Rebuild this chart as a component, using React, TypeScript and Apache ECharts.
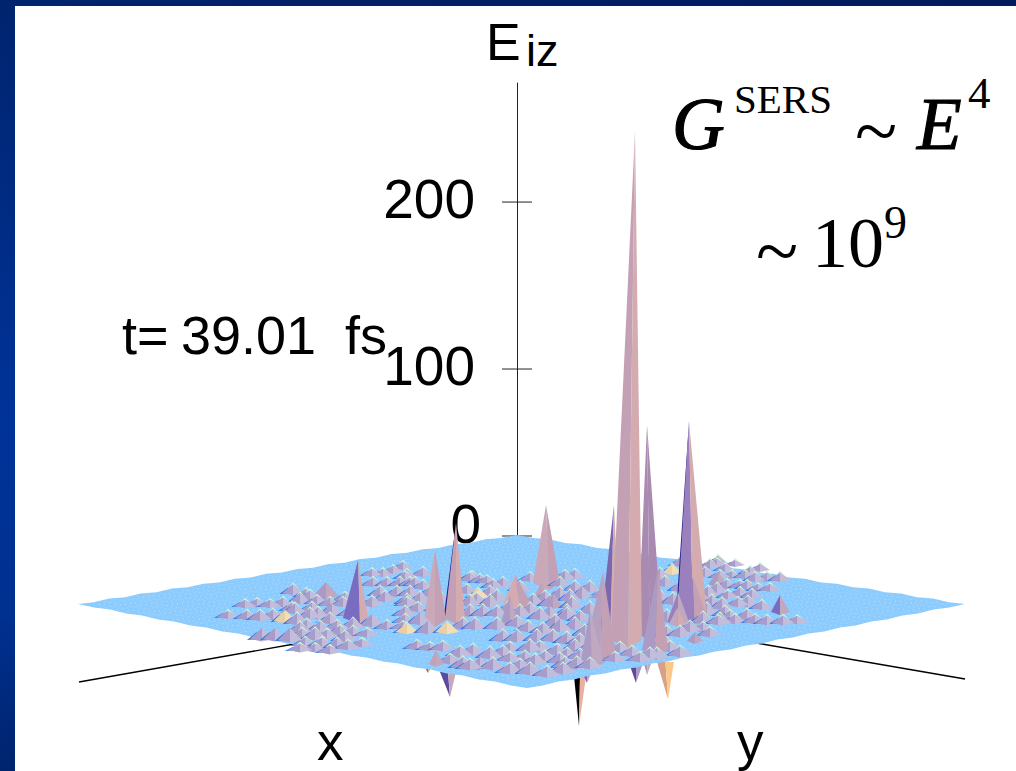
import React, { useEffect, useRef } from "react";
import * as echarts from "echarts";

const zTicks = [0, 100, 200];
const zLabels = ["0", "100", "200"];
const floorCorners = [[78, 604], [517, 535], [965, 604], [527, 688]];
const groundAxisLeft = [[79, 682], [300, 643]];
const groundAxisRight = [[965, 679], [750, 642]];

// [x, base y, apex height, tint (0 plain, 1 tan)]
const bumpsLeft = [
  [293,593,7],[306,596,6],[257,605,5],[270,606,5],[283,605,6],[300,602,7],[317,603,6],
  [228,617,5],[247,618,6],[260,619,7],[273,618,7],[285,621,9,1],[297,623,8],[307,628,7],
  [262,639,9],[275,639,9],[290,640,10],[302,637,7],[315,638,8],[327,637,6],[340,633,6],[353,635,7],[367,635,5],
  [305,645,6],[322,645,6],[337,647,7],[348,648,6],
  [320,630,7],[337,628,6],[353,627,7],[372,625,9],[387,628,6],[403,628,5],
  [373,585,6],[387,585,6],[400,585,6],[380,595,7],[397,595,7],[383,575,5],[372,575,5],[405,578,5],
  [372,605,7],[407,605,6],[405,622,6],[318,617,8],[332,614,9],[292,610,6],[312,610,6],
  [245,606,5],[310,598,6],[330,605,6],[343,605,6],[295,612,7],[310,617,7],[350,615,7],[360,610,6],[345,600,6],
  [330,622,7],[300,632,8],[345,640,7],[362,645,5],[330,652,5],[315,650,5],[300,650,5],
  [385,600,7],[410,585,6],[418,610,6],[393,572,5],[403,568,5],[415,585,6],
];
const bumpsMiddle = [
  [407,577,6],[423,575,6],[470,580,6],[480,582,6],[493,587,6],[503,585,6],[530,580,6],[565,578,6],[487,582,5],[472,578,5],
  [410,595,7],[423,588,6],[467,592,6],[478,597,7,1],[490,595,7],[560,597,8],
  [407,603,7],[420,602,8],[477,603,8],[490,605,8],[533,603,7],[550,605,8],
  [420,623,9],[470,615,8],[483,615,8],[497,615,7],[530,613,8],[550,617,9],[567,615,8],
  [407,632,7,1],[428,632,9],[447,632,9,1],[463,628,8],[475,628,8],[497,628,8],[517,625,7],[528,630,7],[543,632,7],[560,630,9],
  [503,640,8],[517,640,8],[537,640,8],[553,640,8],[567,642,7],
  [417,648,6],[430,649,5],[443,649,6],[460,655,7],[473,653,7],[490,657,8],[503,655,7],[540,650,7],[557,653,7],
  [450,662,6],[463,667,8],[480,668,9],[493,668,8],[510,672,7],[530,673,8],[547,675,7],[563,672,7],[525,660,7],[510,650,6],
  [430,595,7],[437,610,7],[405,615,7],[440,600,7],[470,605,8],[497,600,8],[508,612,8],[520,615,8],[540,618,8],[555,625,8],
  [575,628,8],[572,607,8],[590,612,8],[595,628,8],[585,635,8],[575,590,7],[590,590,7],[600,597,6],[520,590,7],[560,585,6],
  [545,600,7],[575,650,8],[590,650,7],[530,650,8],[545,660,7],[560,662,7],[470,668,7],[510,660,6],[535,663,7],[520,668,7],
];
const bumpsRight = [
  [575,577,6],[660,577,7],[672,573,7,1],[570,600,8],[582,597,9],[660,600,8],[673,603,8],
  [567,618,8],[580,620,7],[667,620,8],[707,613,8],[720,623,8],[703,622,8],
  [567,642,8],[580,643,7],[667,635,7],[680,635,7],[680,655,7],[670,650,7],[657,657,7],
  [567,657,7],[580,658,7],[565,667,8],[577,667,8],[590,667,7],[640,660,6],[620,650,6],
  [710,567,6],[718,563,6],[732,577,5],[745,577,5],[767,580,6],[780,580,6],[755,580,6],
  [747,588,6],[727,587,6],[758,590,5],[717,592,7],[728,597,5],[708,595,7],
  [748,605,7],[738,605,6],[722,608,8],[762,608,6],
  [767,623,6],[783,623,6],[797,622,5],[730,618,6],[747,618,7],[718,623,6],[703,630,6],[735,622,6],
  [717,565,5],[720,577,5],[750,573,5],[740,587,5],
  [615,660,6],[632,655,7],[650,657,7],[665,645,7],[690,630,7],[690,600,7],[700,600,7],[712,605,8],[725,615,7],
  [740,595,6],[752,597,6],[770,590,5],[705,575,6],[725,570,5],[735,565,4],[760,570,5],[680,565,6],[695,570,6],
  [665,585,7],[680,590,7],[710,635,6],[755,622,6],
];

// [tip x, tip y, base left x, base right x, front x, base y, front y, left colour index, right colour index, dark sliver]
const peakColours = ["#c4a0b4", "#d4acb0", "#a98ab0", "#7b66b0", "#b6a0c0", "#c9a9b8", "#7a6cc0", "#9a80bc", "#ab9ac4", "#bfa8c0"];
const peaks = [
  [635,132,611,642,628,640,648,0,1,0],
  [647,425,638,662,650,633,642,2,2,0],
  [689,421,677,707,693,618,624,7,1,1],
  [614,505,600,620,610,630,640,3,1,0],
  [546,505,533,560,549,583,590,5,0,0],
  [435,549,424,446,435,620,627,5,0,0],
  [456,523,445,465,456,618,624,0,1,1],
  [358,560,343,368,360,618,624,6,1,0],
  [326,582,313,339,326,596,600,8,9,0],
  [515,575,503,532,520,605,609,1,0,0],
  [510,595,501,518,510,622,626,8,9,0],
  [542,582,534,549,542,597,600,0,9,0],
  [603,572,583,616,600,655,665,4,0,0],
  [590,610,581,603,592,660,668,8,9,0],
  [658,568,642,668,655,650,655,8,0,0],
  [678,592,667,689,678,622,626,7,9,0],
  [693,577,682,708,695,620,625,7,0,0],
  [677,608,669,686,678,624,627,9,1,0],
  [695,632,687,703,695,641,644,8,9,0],
  [436,650,429,444,436,664,667,0,9,0],
  [553,593,545,562,553,606,609,8,9,0],
  [780,595,771,790,780,612,615,6,9,0],
  [718,572,708,727,718,584,588,8,9,0],
];
// [tip x, tip y, top left x, top right x, top y, left colour, right colour]
const spikes = [
  [450,697,440,456,672,"#5b4aa0","#c9a9b8"],
  [428,673,423,433,664,"#c06020","#d8a878"],
  [579,726,574,586,676,"#000000","#e8b0a0"],
  [587,683,582,592,672,"#7b66b0","#c9a9b8"],
  [636,683,630,642,666,"#5b4aa0","#ab9ac4"],
  [647,675,644,651,664,"#ab9ac4","#c9a9b8"],
  [668,699,657,674,662,"#d8a088","#fcc888"],
  [597,672,590,606,668,"#800018","#800018"],
];

const bumps = [...bumpsLeft, ...bumpsMiddle, ...bumpsRight];

export default function App() {
  const ref = useRef<HTMLDivElement>(null);
  useEffect(() => {
    const chart = echarts.init(ref.current!, null, { renderer: "svg" });
    const sideFill = new echarts.graphic.LinearGradient(0, 0, 0, 1, [
      { offset: 0, color: "#00246e" }, { offset: 0.55, color: "#003399" }, { offset: 0.8, color: "#003090" }, { offset: 1, color: "#00246e" },
    ]);
    const topFill = new echarts.graphic.LinearGradient(0, 0, 1, 0, [
      { offset: 0, color: "#00246e" }, { offset: 1, color: "#001a5c" },
    ]);
    const sans = "Liberation Sans";
    const serif = "Liberation Serif";
    const txt = (text: string, x: number, y: number, size: number, family = sans, style = "normal", thick = 0) => ({
      type: "text", x, y, silent: true,
      style: { text, fill: "#000", fontFamily: family, fontSize: size, fontStyle: style, align: "left", verticalAlign: "middle", stroke: thick ? "#000" : undefined, lineWidth: thick },
    });
    const marks: any[] = [
      ...bumps.map((b) => ({ k: 0, v: b, y: b[1] })),
      ...peaks.map((p) => ({ k: 1, v: p, y: p[5] })),
    ].sort((a, b) => a.y - b.y);

    const poly = (api: any, pts: number[][], fill: string, extra: any = {}) => ({
      type: "polygon", silent: true,
      shape: { points: pts.map((p) => api.coord(p)) },
      style: { fill, ...extra },
    });

    chart.setOption({
      animation: false,
      backgroundColor: "#ffffff",
      graphic: {
        elements: [
          { type: "rect", shape: { x: 0, y: 0, width: 15, height: 771 }, style: { fill: sideFill }, silent: true },
          { type: "rect", shape: { x: 0, y: 0, width: 1016, height: 6 }, style: { fill: topFill }, silent: true },
          txt("E", 486, 42, 52),
          txt("iz", 526, 50, 45),
          txt("t=", 122, 335, 54),
          txt("39.01", 181, 335, 54),
          txt("fs", 345, 335, 54),
          txt("x", 317, 741, 53),
          txt("y", 737, 741, 53),
          txt("G", 672, 124, 73, serif, "italic", 1.2),
          txt("SERS", 734, 99, 41, serif),
          txt("~", 855, 130, 78, serif),
          txt("E", 917, 124, 73, serif, "italic", 1.2),
          txt("4", 968, 93, 45, serif),
          txt("~", 756, 250, 78, serif),
          txt("10", 812, 243, 72, serif),
          txt("9", 884, 222, 46, serif),
        ],
      },
      grid: [
        { left: 0, top: 0, width: 1016, height: 771 },
        { left: 502, top: 83, width: 30, height: 453 },
      ],
      xAxis: [
        { type: "value", min: 0, max: 1016, show: false, gridIndex: 0 },
        { type: "value", min: 0, max: 1, show: false, gridIndex: 1 },
      ],
      yAxis: [
        { type: "value", min: 0, max: 771, inverse: true, show: false, gridIndex: 0 },
        {
          type: "value", gridIndex: 1, min: 0, max: 271.3, interval: 100, position: "left", offset: -15,
          splitLine: { show: false },
          axisTick: { show: false },
          axisLine: { show: true, lineStyle: { color: "#222", width: 1 } },
          axisLabel: {
            margin: 36, color: "#000", fontFamily: sans, fontSize: 55,
            formatter: (v: number) => { const i = zTicks.indexOf(v); return i === 0 ? `{a|${zLabels[i]}}` : i > 0 ? `{b|${zLabels[i]}}` : ""; },
            rich: {
              a: { fontFamily: sans, fontSize: 55, color: "#000", padding: [0, 0, 25, 0] },
              b: { fontFamily: sans, fontSize: 55, color: "#000", padding: [0, 6, 7, 0] },
            },
          },
        },
      ],
      series: [
        {
          type: "custom", name: "z ticks", xAxisIndex: 1, yAxisIndex: 1, z: 1, silent: true,
          data: zTicks.map((v) => [0, v]),
          renderItem: (_: any, api: any) => {
            const a = api.coord([0, api.value(1)]);
            const b = api.coord([1, api.value(1)]);
            return { type: "line", shape: { x1: a[0], y1: a[1], x2: b[0], y2: b[1] }, style: { stroke: "#222", lineWidth: 1 } };
          },
        },
        {
          type: "custom", name: "ground axes", z: 2, silent: true,
          data: [[...groundAxisLeft[0], ...groundAxisLeft[1]], [...groundAxisRight[0], ...groundAxisRight[1]]],
          renderItem: (_: any, api: any) => {
            const a = api.coord([api.value(0), api.value(1)]);
            const b = api.coord([api.value(2), api.value(3)]);
            return { type: "line", shape: { x1: a[0], y1: a[1], x2: b[0], y2: b[1] }, style: { stroke: "#000", lineWidth: 1.4 } };
          },
        },
        {
          type: "custom", name: "spikes", z: 3, silent: true,
          data: spikes.map((_, i) => [i]),
          renderItem: (params: any, api: any) => {
            const [tx, ty, l, r, top, cl, cr] = spikes[params.dataIndex] as any[];
            return {
              type: "group",
              children: [
                poly(api, [[tx, ty], [l, top], [(l + r) / 2, top]], cl),
                poly(api, [[tx, ty], [r, top], [(l + r) / 2, top]], cr),
              ],
            };
          },
        },
        {
          type: "custom", name: "floor", z: 4, silent: true,
          data: [[0]],
          renderItem: (_: any, api: any) => {
            const [L, T, R, B] = floorCorners;
            const lerp = (p: number[], q: number[], t: number) => [p[0] + (q[0] - p[0]) * t, p[1] + (q[1] - p[1]) * t];
            const outline: number[][] = [];
            floorCorners.forEach((p, e) => {
              const q = floorCorners[(e + 1) % 4];
              const n = 28;
              for (let i = 0; i < n; i++) {
                const a = lerp(p, q, i / n);
                outline.push([a[0], a[1] + (i === 0 ? 0 : i % 2 ? 0.6 : -0.6)]);
              }
            });
            const children: any[] = [poly(api, outline, "#8ccbfd")];
            for (let i = 1; i < 40; i++) {
              const t = i / 40;
              [[lerp(L, T, t), lerp(B, R, t)], [lerp(L, B, t), lerp(T, R, t)]].forEach(([a, b]) => {
                const p = api.coord(a);
                const q = api.coord(b);
                children.push({
                  type: "line", silent: true,
                  shape: { x1: p[0], y1: p[1], x2: q[0], y2: q[1] },
                  style: { stroke: "rgba(255,255,255,0.28)", lineWidth: 1, lineDash: [1, 4] },
                });
              });
            }
            return { type: "group", children };
          },
        },
        {
          type: "custom", name: "surface", z: 5, silent: true,
          data: marks.map((_, i) => [i]),
          renderItem: (params: any, api: any) => {
            const m = marks[params.dataIndex];
            if (m.k === 0) {
              const [x, y, h0, tint] = m.v;
              const h = h0 * 1.25;
              const w = 10 + ((y - 570) / 100) * 3;
              const d = w * 0.2;
              const A = [x, y - h], Lf = [x - w, y], Rg = [x + w, y], Fr = [x, y + d];
              const children: any[] = [
                poly(api, [[x - w - 3, y + 1], [x - w * 0.45, y - h * 0.6], [x - w * 0.2, y]], "#2470e2"),
              ];
              if (h0 <= 8) children.push(poly(api, [[x - w * 0.35, y - h * 0.65], [x, y - h - 2], [x + w * 0.6, y - h * 0.4], A], "#c9f6d8"));
              children.push(poly(api, [Lf, Fr, A], tint ? "#e8cfa6" : "#a79cca"));
              children.push(poly(api, [Rg, Fr, A], tint ? "#f2dfb8" : "#c3bcda"));
              return { type: "group", children };
            }
            const [tx, ty, l, r, fx, by, fy, cl, cr, sliver] = m.v;
            const A = [tx, ty];
            const children: any[] = [];
            if (sliver) children.push(poly(api, [A, [l - 1, by - 3], [l + 3, by - 1]], "#1c1c8c"));
            children.push(poly(api, [A, [l, by], [fx, fy]], peakColours[cl]));
            children.push(poly(api, [A, [r, by], [fx, fy]], peakColours[cr]));
            return { type: "group", children };
          },
        },
      ],
    });
    return () => chart.dispose();
  }, []);
  return <div ref={ref} style={{ position: "fixed", left: 0, top: 0, width: 1016, height: 771 }} />;
}
